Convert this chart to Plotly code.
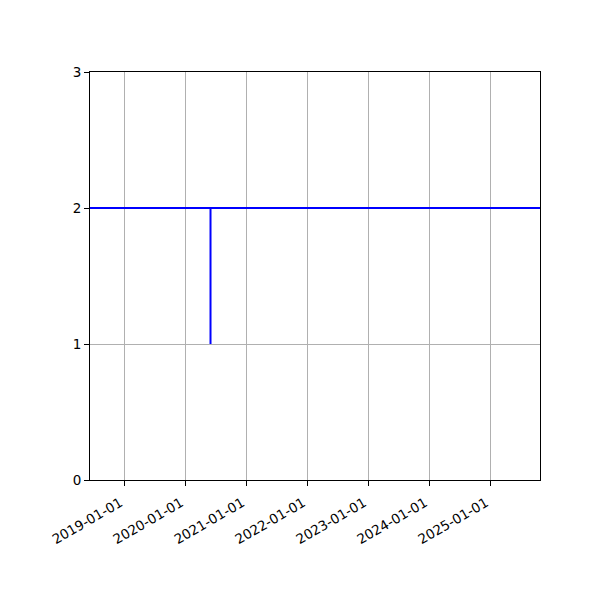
import plotly.graph_objects as go

# step series: value drops to 1 for a moment in mid 2020, otherwise 2
dates = ["2018-06-10", "2020-06-01", "2020-06-01", "2020-06-01", "2025-10-27"]
values = [2, 2, 1, 2, 2]

x_range = ["2018-06-10", "2025-10-27"]
y_ticks = [0, 1, 2, 3]
x_ticks = ["2019-01-01", "2020-01-01", "2021-01-01", "2022-01-01",
           "2023-01-01", "2024-01-01", "2025-01-01"]

fig = go.Figure(
    go.Scatter(
        x=dates,
        y=values,
        mode="lines",
        line=dict(color="#0000ff", width=2),
        showlegend=False,
    )
)

axis_style = dict(
    showline=True,
    linecolor="black",
    linewidth=1,
    mirror=True,
    ticks="outside",
    ticklen=5,
    tickcolor="black",
    showgrid=True,
    gridcolor="#b0b0b0",
    gridwidth=1,
    zeroline=False,
)

# the page body adds 8px, so margins are shifted to land the axes where the original has them
fig.update_layout(
    width=600,
    height=600,
    margin=dict(l=82, r=68, t=64, b=128),
    plot_bgcolor="white",
    paper_bgcolor="white",
    font=dict(family="DejaVu Sans", size=13.5, color="black"),
    xaxis=dict(
        type="date",
        range=x_range,
        tickvals=x_ticks,
        ticktext=x_ticks,
        tickangle=-30,
        ticklabelstandoff=4,
        ticklabelshift=-4,
        **axis_style,
    ),
    yaxis=dict(range=[0, 3], tickvals=y_ticks, **axis_style),
)

fig.write_html("out.html")
